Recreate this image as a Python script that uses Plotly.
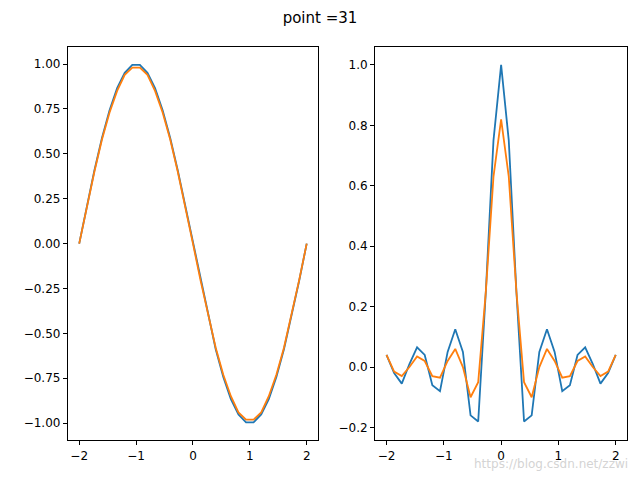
import plotly.graph_objects as go
from plotly.subplots import make_subplots

# 31 sample points from -2 to 2
x = [-2 + 4 * k / 30 for k in range(31)]

left_half_blue = [0, 0.208, 0.407, 0.588, 0.743, 0.866, 0.951, 0.995,
                  0.995, 0.951, 0.866, 0.743, 0.588, 0.407, 0.208]
left_half_orange = [0, 0.205, 0.40, 0.58, 0.73, 0.85, 0.94, 0.98,
                    0.98, 0.94, 0.85, 0.73, 0.58, 0.40, 0.205]
left_blue = left_half_blue + [0] + [-v for v in left_half_blue[::-1]]
left_orange = left_half_orange + [0] + [-v for v in left_half_orange[::-1]]

# right panel values from x=2 down to x=0.133 (mirrored), plus centre
right_side_blue = [0.04, -0.02, -0.055, 0.01, 0.065, 0.04, -0.06, -0.08,
                   0.05, 0.125, 0.05, -0.16, -0.18, 0.25, 0.75]
right_side_orange = [0.04, -0.015, -0.03, 0.0, 0.035, 0.02, -0.03, -0.035,
                     0.02, 0.06, 0.0, -0.1, -0.05, 0.25, 0.63]
right_blue = right_side_blue + [1.0] + right_side_blue[::-1]
right_orange = right_side_orange + [0.82] + right_side_orange[::-1]

BLUE = "#1f77b4"
ORANGE = "#ff7f0e"

# page body adds an 8px offset; compensate in paper coordinates
DX = 8 / 640
DY = 8 / 480

fig = make_subplots(rows=1, cols=2)
fig.add_trace(go.Scatter(x=x, y=left_blue, mode="lines", line=dict(color=BLUE, width=1.8)), 1, 1)
fig.add_trace(go.Scatter(x=x, y=left_orange, mode="lines", line=dict(color=ORANGE, width=1.8)), 1, 1)
fig.add_trace(go.Scatter(x=x, y=right_blue, mode="lines", line=dict(color=BLUE, width=1.8)), 1, 2)
fig.add_trace(go.Scatter(x=x, y=right_orange, mode="lines", line=dict(color=ORANGE, width=1.8)), 1, 2)

axis_style = dict(showgrid=False, zeroline=False, showline=True, linecolor="black",
                  linewidth=1, mirror=True, ticks="outside", ticklen=4,
                  tickcolor="black", tickfont=dict(size=12, color="black"),
                  automargin=False)

fig.update_xaxes(axis_style)
fig.update_yaxes(axis_style)
fig.update_xaxes(range=[-2.2, 2.2], tickvals=[-2, -1, 0, 1, 2],
                 domain=[0.106 - DX, 0.497 - DX], row=1, col=1)
fig.update_xaxes(range=[-2.2, 2.2], tickvals=[-2, -1, 0, 1, 2],
                 domain=[0.586 - DX, 0.98 - DX], row=1, col=2)
fig.update_yaxes(range=[-1.0945, 1.0945], tickvals=[-1, -0.75, -0.5, -0.25, 0, 0.25, 0.5, 0.75, 1],
                 tickformat=".2f", domain=[0.083 + DY, 0.902 + DY], row=1, col=1)
fig.update_yaxes(range=[-0.242, 1.059], tickvals=[-0.2, 0, 0.2, 0.4, 0.6, 0.8, 1.0],
                 tickformat=".1f", domain=[0.083 + DY, 0.902 + DY], row=1, col=2)

fig.update_layout(
    width=640, height=480,
    margin=dict(l=0, r=0, t=0, b=0, autoexpand=False),
    plot_bgcolor="white", paper_bgcolor="white",
    showlegend=False,
    font=dict(family="DejaVu Sans", color="black"),
    title=dict(text="point =31", x=0.5 - DX, xanchor="center", y=0.962 + DY, yanchor="middle",
               font=dict(size=15)),
    annotations=[dict(text="https://blog.csdn.net/zzwi", xref="paper", yref="paper",
                      x=0.985 - DX, y=0.015 + DY, xanchor="right", yanchor="bottom", showarrow=False,
                      font=dict(size=12, color="rgba(200,200,200,0.8)"))],
)

fig.write_html("out.html")
